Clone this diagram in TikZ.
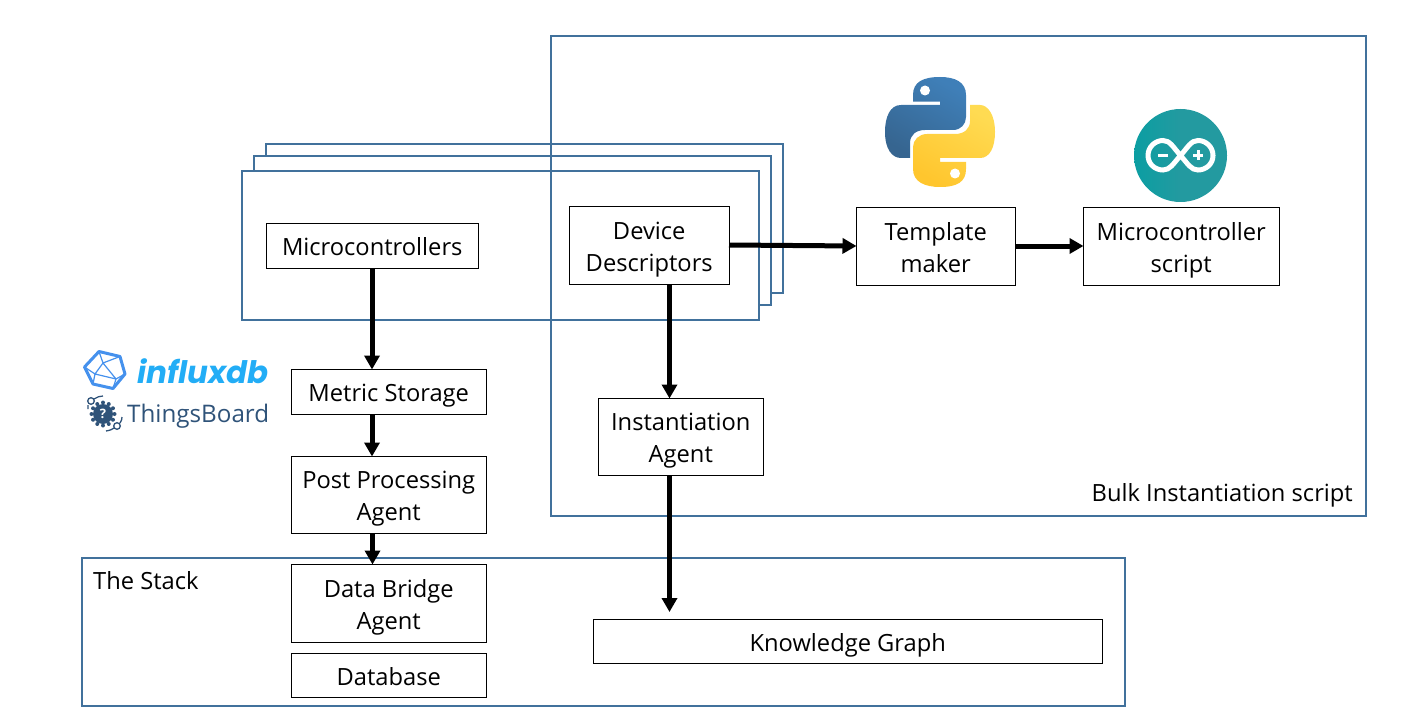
\documentclass[tikz,border=0pt]{standalone}
\usepackage{fontspec}
\setmainfont{Open Sans}
\newfontfamily\influxfont{Poppins}
\usetikzlibrary{arrows.meta}
\definecolor{frameblue}{HTML}{41719C}
\definecolor{pyblueA}{HTML}{3F7FB8}
\definecolor{pyblueB}{HTML}{366590}
\definecolor{pyyellowA}{HTML}{FFDB52}
\definecolor{pyyellowB}{HTML}{FFC62E}
\definecolor{atealA}{HTML}{0B9EA2}
\definecolor{atealB}{HTML}{239AA0}
\definecolor{influx}{HTML}{22ADF6}
\definecolor{influxb}{HTML}{4591ED}
\definecolor{tbblue}{HTML}{2F5379}
\newcommand{\ls}{\rule{0pt}{26pt}\rule[-6pt]{0pt}{6pt}}
\tikzset{
  x=1pt,y=-1pt,
  frame/.style={draw=frameblue,line width=2pt},
  box/.style={draw=black,line width=1pt,fill=white,align=center,font=\fontsize{23.7}{32}\selectfont,inner sep=0pt,outer sep=0pt},
  flow/.style={draw=black,line width=5pt,-{Triangle[length=14pt,width=15pt]}},
  lbl/.style={font=\fontsize{23.7}{32}\selectfont,inner sep=0pt}
}
\newcommand{\bx}[6]{\node[box,minimum width=#4 pt-#2 pt+0.5pt,minimum height=#5 pt-#3 pt+0.5pt,anchor=north west] (#1) at (#2-0.5,#3-0.5) {#6};}
\begin{document}
\begin{tikzpicture}
\useasboundingbox (0,0) rectangle (1421,714);
% stacked frames
\draw[frame] (266,144.5) rectangle (783,293);
\draw[frame,fill=white] (254,156) rectangle (771,305);
\draw[frame,fill=white] (242,171.5) rectangle (759,320);
% large frames
\draw[frame] (551,36) rectangle (1366,516);
\draw[frame] (82,558) rectangle (1125,706);
\node[lbl,anchor=base east] (bulk) at (1353,501) {Bulk Instantiation script};
\node[lbl,anchor=base west] (stack) at (93,589) {The Stack};
% boxes
\bx{micro}{267}{224}{478}{268}{\ls Microcontrollers}
\bx{desc}{570}{207}{729}{284}{\ls Device\\\ls Descriptors}
\bx{templ}{857}{208}{1015}{285}{\ls Template\\\ls maker}
\bx{mscript}{1084}{208}{1279}{285}{\ls Microcontroller\\\ls script}
\bx{metric}{292}{370}{486}{414}{\ls Metric Storage}
\bx{inst}{599}{399}{763}{475}{\ls Instantiation\\\ls Agent}
\bx{post}{292}{457}{486}{533}{\ls Post Processing\\\ls Agent}
\bx{bridge}{292}{565}{486}{642}{\ls Data Bridge\\\ls Agent}
\bx{db}{292}{654}{486}{697}{\ls Database}
\bx{kg}{594}{620}{1102}{663}{\ls Knowledge Graph}
% connectors
\coordinate (kgin) at (669.5,612);
\draw[flow] (micro.south -| 372,0) -- (metric.north -| 372,0);
\draw[flow] (metric.south -| 372,0) -- (post.north -| 372,0);
\draw[flow] (post.south -| 372.5,0) -- (bridge.north -| 372.5,0);
\draw[flow] (desc.south -| 669.5,0) -- (inst.north -| 669.5,0);
\draw[flow] (inst.south -| 669.5,0) -- (kgin);
\draw[flow] (desc.east |- 0,245) -- (templ.west |- 0,246);
\draw[flow] (templ.east |- 0,246) -- (mscript.west |- 0,246);
% python logo
\begin{scope}[shift={(885,77)}]
\shade[left color=pyblueA,right color=pyblueB,shading angle=-30] (55,0) .. controls (38,0) and (28,5) .. (28,18) -- (28,24.7) -- (55,24.7) -- (55,28) -- (16,28) .. controls (5,28) and (0,40) .. (0,55) .. controls (0,72) and (7,81) .. (16,81) -- (25,81) -- (25,66) .. controls (25,58) and (31,53) .. (40,53) -- (68,53) .. controls (76,53) and (81,47) .. (81,40) -- (81,18) .. controls (81,5) and (70,0) .. (55,0) -- cycle;
\shade[left color=pyyellowA,right color=pyyellowB,shading angle=-30] (55,110) .. controls (72,110) and (81,105) .. (81,92) -- (81,85) -- (55,85) -- (55,81) -- (95,81) .. controls (105,81) and (110,70) .. (110,55) .. controls (110,38) and (103,28) .. (95,28) -- (85,28) -- (85,44) .. controls (85,52) and (79,57) .. (70,57) -- (42,57) .. controls (34,57) and (28,63) .. (28,70) -- (28,92) .. controls (28,105) and (40,110) .. (55,110) -- cycle;
\fill[white] (40,13.5) circle[radius=5];
\fill[white] (70,96.5) circle[radius=5];
\end{scope}
% arduino logo
\shade[left color=atealA,right color=atealB,middle color=atealB] (1180.5,155.5) circle[radius=46.5];
\draw[white,line width=5pt] (1180.5,155.5) .. controls (1173,147) and (1170,140.5) .. (1163,140.5) .. controls (1155,140.5) and (1148,147) .. (1148,155.5) .. controls (1148,164) and (1155,170) .. (1163,170) .. controls (1170,170) and (1173,164) .. (1180.5,155.5) .. controls (1188,147) and (1191,140.5) .. (1198,140.5) .. controls (1206,140.5) and (1213,147) .. (1213,155.5) .. controls (1213,164) and (1206,170) .. (1198,170) .. controls (1191,170) and (1188,164) .. (1180.5,155.5) -- cycle;
\draw[white,line width=3pt] (1158,155.5) -- (1168,155.5);
\draw[white,line width=3pt] (1193,155.5) -- (1203,155.5) (1198,150.5) -- (1198,160.5);
% influxdb logo
\draw[influxb,line width=3pt,line join=round] (99,351.5) -- (120,356.5) -- (125,374) -- (113,388.5) -- (93,384) -- (84.5,367) -- cycle;
\draw[influxb,line width=1.2pt] (99,351.5) -- (103,363) -- (120,356.5) (84.5,367) -- (95,374) -- (103,363) -- (116,379) -- (125,374) (116,379) -- (113,388.5) (95,374) -- (116,379) (95,374) -- (93,384);
\node[inner sep=0pt,anchor=base west,text=influx,font=\influxfont\fontsize{31}{32}\selectfont\bfseries\itshape] (influxname) at (137,383) {influxdb};
% thingsboard logo
\fill[tbblue] (103,414) circle[radius=10];
\foreach \a in {0,30,...,330} \fill[tbblue] (103,414) ++(\a:11.5) circle[radius=2];
\node[white,font=\fontsize{13}{14}\selectfont\bfseries,inner sep=0pt] (tbq) at (103,414) {?};
\draw[tbblue,line width=1.3pt] (91,401) circle[radius=3.3] (88,405) -- (88,409) (94,399) .. controls (97,397) and (100,396) .. (103,396);
\draw[tbblue,line width=1.3pt] (117,426) circle[radius=3.3] (120,423) .. controls (121.5,421) and (122,419) .. (122,417) (114,428) .. controls (111,430) and (108,431) .. (106,431);
\node[inner sep=0pt,anchor=base west,text=tbblue,font=\fontsize{24.2}{28}\selectfont] (tbname) at (127,422) {ThingsBoard};
\end{tikzpicture}
\end{document}
